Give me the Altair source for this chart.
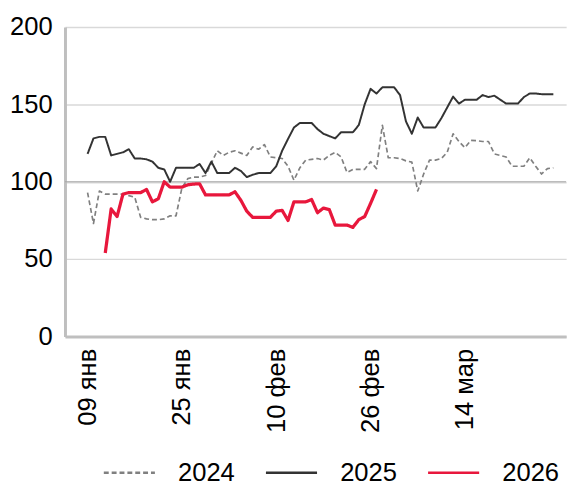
import altair as alt
import pandas as pd

# Day offsets counted from 09 Jan
tick_days = [0, 16, 32, 48, 64]
tick_labels = ["09 янв", "25 янв", "10 фев", "26 фев", "14 мар"]

years = ["2024", "2025", "2026"]
colors = ["#808080", "#333333", "#e8173c"]
dashes = [[5, 3], [1, 0], [1, 0]]
widths = [1.7, 2.0, 3.3]

start_2024 = 0
values_2024 = [93, 73, 94, 92, 92, 92, 92, 91, 90, 77,
               76, 75.5, 75.5, 76, 78, 78, 96, 102, 103, 103,
               104, 112, 120, 117, 119, 120, 118.5, 117, 122.5, 121,
               124, 116, 115.5, 115, 110, 101, 109, 114, 114.5, 115,
               114, 117, 119, 116, 106, 108, 108, 108, 113, 108.5,
               136.5, 115.5, 115.5, 115, 113.5, 112.7, 94, 105, 114, 114,
               115, 119, 131, 126, 122, 126.7, 126.5, 126, 126, 118,
               117, 116, 110, 110, 110, 115.5, 110, 105, 108.5, 109]

start_2025 = 0
values_2025 = [118, 128, 129, 129, 117, 118, 119, 121, 115, 115,
               114.5, 113, 109, 108, 100, 109, 109, 109, 109, 111.5,
               105.6, 113, 105.6, 105.6, 105.6, 109, 107, 103, 104.5, 105.6,
               105.6, 105.6, 110, 120, 127.7, 135, 138, 138, 138, 134,
               131, 129.5, 128, 132, 132, 132, 136.6, 150, 160, 157,
               161, 161, 161, 156, 139, 131, 141.5, 135, 135, 135,
               141, 148, 155, 150.5, 153, 153, 153, 156, 154.7, 155.6,
               153, 150.5, 150.5, 150.5, 154.7, 157, 157, 156.6, 156.6, 156.6]

start_2026 = 3
values_2026 = [54, 82.4, 77.5, 92, 93, 93, 93,
               95, 87, 89, 100, 96.5, 96.5, 96.5, 98, 98.5, 98.7,
               91.5, 91.5, 91.5, 91.5, 91.5, 93.5, 88, 81, 77, 77,
               77, 77, 81, 81.5, 75, 87, 87, 87, 88.5, 80,
               83, 82, 72, 72, 72, 70.5, 75.5, 77.5, 86, 95]

series = [("2024", start_2024, values_2024),
          ("2025", start_2025, values_2025),
          ("2026", start_2026, values_2026)]

label_expr = "".join(
    f"datum.value == {d} ? '{l}' : " for d, l in zip(tick_days, tick_labels)
) + "''"

leg = alt.Legend(title=None)

x_enc = alt.X("day:Q",
              scale=alt.Scale(domain=[-3.83, 81.17], nice=False, zero=False),
              axis=alt.Axis(values=tick_days, labelExpr=label_expr, labelAngle=270,
                            labelAlign="right", labelBaseline="middle",
                            ticks=False, labelPadding=12, grid=False,
                            domainColor="#bfbfbf", domainWidth=3,
                            labelFontSize=26, labelColor="#000000"),
              title=None)
y_enc = alt.Y("value:Q",
              scale=alt.Scale(domain=[0, 200], nice=False),
              axis=alt.Axis(values=[0, 50, 100, 150, 200], ticks=False,
                            labelPadding=13, grid=True, gridColor="#d9d9d9",
                            gridWidth=1.5, domainColor="#bfbfbf", domainWidth=3,
                            labelFontSize=26, labelColor="#000000"),
              title=None)
color_enc = alt.Color("year:N", scale=alt.Scale(domain=years, range=colors), legend=leg)
dash_enc = alt.StrokeDash("year:N", scale=alt.Scale(domain=years, range=dashes), legend=leg)

rule = alt.Chart(pd.DataFrame({"value": [100]})).mark_rule(
    color="#a6a6a6", strokeWidth=1
).encode(y=y_enc)

layers = [rule]
for (yr, start, vals), w in zip(series, widths):
    d = pd.DataFrame({"day": [start + i for i in range(len(vals))],
                      "value": vals, "year": yr})
    layers.append(
        alt.Chart(d).mark_line(strokeWidth=w, strokeCap="butt", strokeJoin="round")
        .encode(x=x_enc, y=y_enc, color=color_enc, strokeDash=dash_enc)
    )

chart = alt.layer(*layers).properties(
    width=510, height=315,
    autosize=alt.AutoSizeParams(type="none"),
    padding={"left": 58, "top": 15, "right": 8, "bottom": 158},
).configure(
    font="Liberation Sans"
).configure_view(
    stroke=None
).configure_legend(
    orient="none", legendX=38, legendY=426, direction="horizontal",
    symbolType="stroke", symbolSize=2704, symbolStrokeWidth=2.5,
    labelFontSize=26, labelOffset=22, columnPadding=26,
    labelColor="#000000", labelFont="Liberation Sans"
)

chart.save("out.html", embed_options={"renderer": "svg", "actions": False})
